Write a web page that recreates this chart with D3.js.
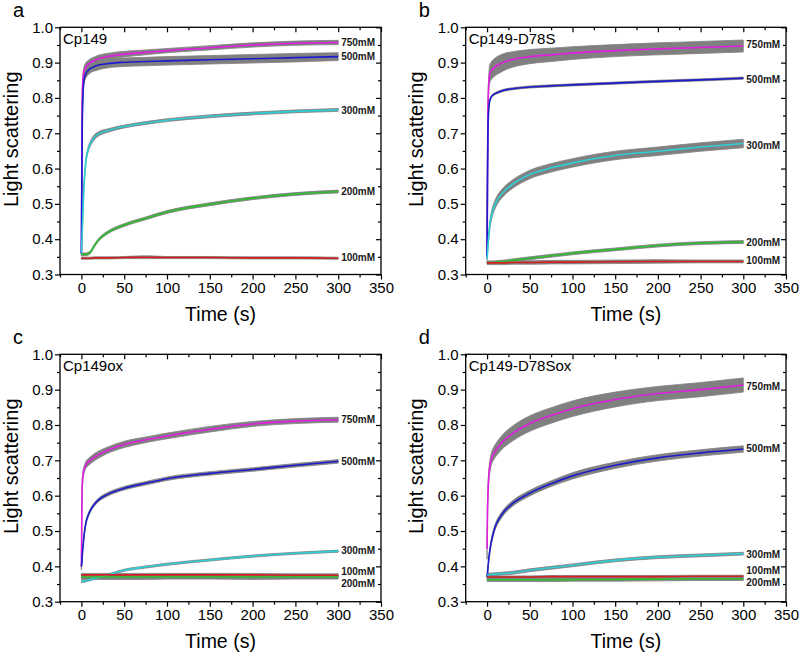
<!DOCTYPE html>
<html><head><meta charset="utf-8">
<script src="https://cdn.jsdelivr.net/npm/d3@7"></script>
<style>body{margin:0;background:#fff} text{font-family:"Liberation Sans",Arial,sans-serif}</style>
</head><body><svg id="chart" width="800" height="655"></svg>
<script>
// ---------- data ----------
const T = [0, 0.5, 1, 2, 3, 5, 8, 10, 15, 20, 30, 50, 75, 100, 150, 200, 250, 300];
const concentrations = ["750mM", "500mM", "300mM", "200mM", "100mM"];
const panelLetters = ["a", "b", "c", "d"];
const panelTitles = ["Cp149", "Cp149-D78S", "Cp149ox", "Cp149-D78Sox"];
const xTicks = [0, 50, 100, 150, 200, 250, 300, 350];
const yTicks = [0.3, 0.4, 0.5, 0.6, 0.7, 0.8, 0.9, 1.0];

// panel a: Cp149
const a750 = [0.36, 0.62, 0.80, 0.86, 0.875, 0.887, 0.895, 0.899, 0.906, 0.911, 0.917, 0.924, 0.929, 0.934, 0.942, 0.950, 0.955, 0.957];
const a500 = [0.36, 0.55, 0.72, 0.82, 0.85, 0.868, 0.878, 0.883, 0.889, 0.893, 0.897, 0.901, 0.903, 0.905, 0.908, 0.911, 0.914, 0.917];
const a300 = [0.36, 0.39, 0.42, 0.49, 0.55, 0.615, 0.655, 0.668, 0.688, 0.698, 0.707, 0.719, 0.729, 0.737, 0.748, 0.756, 0.762, 0.766];
const a200 = [0.357, 0.357, 0.357, 0.357, 0.357, 0.357, 0.359, 0.362, 0.381, 0.398, 0.418, 0.44, 0.459, 0.477, 0.499, 0.516, 0.528, 0.535];
const a100 = [0.346, 0.346, 0.346, 0.346, 0.346, 0.346, 0.346, 0.346, 0.347, 0.347, 0.347, 0.348, 0.349, 0.348, 0.348, 0.347, 0.347, 0.346];
const a750err = [0.003, 0.01, 0.012, 0.012, 0.012, 0.012, 0.011, 0.011, 0.01, 0.01, 0.009, 0.008, 0.007, 0.006, 0.006, 0.006, 0.006, 0.006];
const a500err = [0.003, 0.01, 0.012, 0.013, 0.013, 0.013, 0.013, 0.013, 0.013, 0.013, 0.012, 0.012, 0.012, 0.012, 0.012, 0.012, 0.012, 0.011];
const a300err = [0.003, 0.004, 0.005, 0.006, 0.007, 0.007, 0.007, 0.007, 0.007, 0.006, 0.005, 0.004, 0.004, 0.004, 0.004, 0.004, 0.004, 0.004];
const a200err = [0.004, 0.004, 0.004, 0.004, 0.004, 0.004, 0.004, 0.004, 0.004, 0.004, 0.004, 0.004, 0.004, 0.004, 0.004, 0.004, 0.004, 0.004];
const a100err = [0.003, 0.003, 0.003, 0.003, 0.003, 0.003, 0.003, 0.003, 0.003, 0.003, 0.003, 0.003, 0.004, 0.003, 0.003, 0.003, 0.003, 0.003];
const aLabelAt = [0.957, 0.917, 0.764, 0.536, 0.347];

// panel b: Cp149-D78S
const b750 = [0.35, 0.60, 0.76, 0.84, 0.866, 0.877, 0.885, 0.889, 0.896, 0.902, 0.909, 0.917, 0.922, 0.927, 0.934, 0.939, 0.943, 0.947];
const b500 = [0.35, 0.55, 0.70, 0.77, 0.79, 0.803, 0.810, 0.813, 0.818, 0.822, 0.826, 0.831, 0.834, 0.837, 0.842, 0.847, 0.851, 0.856];
const b300 = [0.345, 0.36, 0.38, 0.41, 0.435, 0.465, 0.49, 0.502, 0.522, 0.536, 0.556, 0.583, 0.602, 0.616, 0.637, 0.649, 0.661, 0.671];
const b200 = [0.334, 0.334, 0.334, 0.334, 0.334, 0.334, 0.334, 0.335, 0.336, 0.337, 0.34, 0.346, 0.353, 0.36, 0.371, 0.382, 0.389, 0.392];
const b100 = [0.333, 0.333, 0.333, 0.333, 0.333, 0.333, 0.333, 0.333, 0.333, 0.333, 0.334, 0.334, 0.335, 0.335, 0.336, 0.337, 0.337, 0.337];
const b750err = [0.003, 0.015, 0.02, 0.024, 0.025, 0.025, 0.025, 0.025, 0.025, 0.024, 0.022, 0.02, 0.019, 0.018, 0.017, 0.017, 0.017, 0.017];
const b500err = [0.002, 0.003, 0.003, 0.003, 0.003, 0.003, 0.003, 0.003, 0.003, 0.003, 0.003, 0.003, 0.003, 0.003, 0.003, 0.003, 0.003, 0.003];
const b300err = [0.005, 0.006, 0.008, 0.01, 0.011, 0.012, 0.012, 0.012, 0.012, 0.012, 0.012, 0.012, 0.012, 0.012, 0.012, 0.012, 0.012, 0.012];
const b200err = [0.004, 0.004, 0.004, 0.004, 0.004, 0.004, 0.004, 0.004, 0.004, 0.004, 0.004, 0.004, 0.004, 0.004, 0.004, 0.004, 0.004, 0.004];
const b100err = [0.005, 0.005, 0.005, 0.005, 0.005, 0.005, 0.005, 0.005, 0.005, 0.005, 0.005, 0.005, 0.005, 0.005, 0.005, 0.005, 0.004, 0.004];
const bLabelAt = [0.952, 0.853, 0.666, 0.39, 0.339];

// panel c: Cp149ox
const c750 = [0.40, 0.55, 0.63, 0.66, 0.672, 0.686, 0.695, 0.699, 0.709, 0.716, 0.728, 0.745, 0.758, 0.769, 0.788, 0.803, 0.811, 0.815];
const c500 = [0.40, 0.41, 0.43, 0.46, 0.485, 0.52, 0.545, 0.556, 0.575, 0.588, 0.603, 0.621, 0.635, 0.648, 0.663, 0.674, 0.686, 0.697];
const c300 = [0.357, 0.357, 0.357, 0.358, 0.358, 0.359, 0.361, 0.362, 0.366, 0.369, 0.375, 0.389, 0.398, 0.406, 0.418, 0.429, 0.437, 0.443];
const c200 = [0.370, 0.370, 0.370, 0.370, 0.370, 0.370, 0.370, 0.370, 0.370, 0.370, 0.370, 0.370, 0.370, 0.371, 0.371, 0.370, 0.370, 0.370];
const c100 = [0.376, 0.376, 0.376, 0.376, 0.376, 0.376, 0.376, 0.376, 0.376, 0.376, 0.376, 0.376, 0.376, 0.376, 0.376, 0.376, 0.375, 0.375];
const c750err = [0.01, 0.05, 0.02, 0.012, 0.01, 0.01, 0.01, 0.01, 0.01, 0.01, 0.009, 0.009, 0.008, 0.008, 0.008, 0.007, 0.007, 0.007];
const c500err = [0.005, 0.005, 0.005, 0.005, 0.005, 0.005, 0.005, 0.005, 0.005, 0.005, 0.005, 0.005, 0.005, 0.005, 0.005, 0.005, 0.005, 0.005];
const c300err = [0.003, 0.003, 0.003, 0.003, 0.003, 0.003, 0.003, 0.003, 0.003, 0.003, 0.003, 0.003, 0.003, 0.003, 0.003, 0.003, 0.003, 0.003];
const c200err = [0.007, 0.007, 0.007, 0.007, 0.007, 0.007, 0.007, 0.007, 0.007, 0.007, 0.007, 0.007, 0.007, 0.007, 0.007, 0.007, 0.006, 0.006];
const c100err = [0.004, 0.004, 0.004, 0.004, 0.004, 0.004, 0.004, 0.004, 0.004, 0.004, 0.004, 0.004, 0.004, 0.004, 0.004, 0.004, 0.004, 0.004];
const cLabelAt = [0.816, 0.698, 0.444, 0.352, 0.386];

// panel d: Cp149-D78Sox
const d750 = [0.45, 0.55, 0.60, 0.655, 0.677, 0.703, 0.72, 0.728, 0.744, 0.757, 0.776, 0.804, 0.827, 0.846, 0.872, 0.889, 0.900, 0.913];
const d500 = [0.37, 0.38, 0.395, 0.42, 0.44, 0.47, 0.50, 0.515, 0.538, 0.555, 0.578, 0.607, 0.634, 0.656, 0.686, 0.707, 0.721, 0.732];
const d300 = [0.376, 0.376, 0.376, 0.377, 0.377, 0.377, 0.378, 0.378, 0.379, 0.38, 0.382, 0.389, 0.396, 0.403, 0.417, 0.426, 0.431, 0.436];
const d200 = [0.362, 0.362, 0.362, 0.362, 0.362, 0.362, 0.362, 0.362, 0.362, 0.362, 0.362, 0.362, 0.362, 0.363, 0.363, 0.364, 0.365, 0.365];
const d100 = [0.370, 0.370, 0.370, 0.370, 0.370, 0.370, 0.370, 0.370, 0.370, 0.370, 0.370, 0.370, 0.371, 0.371, 0.371, 0.371, 0.372, 0.372];
const d750err = [0.03, 0.03, 0.02, 0.017, 0.017, 0.017, 0.018, 0.018, 0.019, 0.02, 0.021, 0.022, 0.022, 0.022, 0.021, 0.02, 0.02, 0.02];
const d500err = [0.004, 0.005, 0.006, 0.007, 0.007, 0.008, 0.008, 0.008, 0.008, 0.008, 0.008, 0.008, 0.008, 0.009, 0.009, 0.009, 0.009, 0.009];
const d300err = [0.004, 0.004, 0.004, 0.004, 0.004, 0.004, 0.004, 0.004, 0.004, 0.004, 0.004, 0.004, 0.004, 0.004, 0.004, 0.004, 0.004, 0.004];
const d200err = [0.005, 0.005, 0.005, 0.005, 0.005, 0.005, 0.005, 0.005, 0.005, 0.005, 0.005, 0.005, 0.005, 0.005, 0.005, 0.005, 0.005, 0.005];
const d100err = [0.003, 0.003, 0.003, 0.003, 0.003, 0.003, 0.003, 0.003, 0.003, 0.003, 0.003, 0.003, 0.003, 0.003, 0.003, 0.003, 0.003, 0.003];
const dLabelAt = [0.910, 0.734, 0.434, 0.353, 0.389];

// ---------- drawing ----------
const seriesColors = ["#e21ee2", "#1c1ccc", "#2ccfd6", "#2cc02c", "#d42020"];
const bandColor = "#808080";

const panels = [
  {series: [a750, a500, a300, a200, a100], errs: [a750err, a500err, a300err, a200err, a100err], labelAt: aLabelAt, box: {x0: 60, x1: 381, y0: 27.3, y1: 274.5}},
  {series: [b750, b500, b300, b200, b100], errs: [b750err, b500err, b300err, b200err, b100err], labelAt: bLabelAt, box: {x0: 465.7, x1: 786, y0: 27.3, y1: 274.5}},
  {series: [c750, c500, c300, c200, c100], errs: [c750err, c500err, c300err, c200err, c100err], labelAt: cLabelAt, box: {x0: 60, x1: 381, y0: 354.3, y1: 601.7}},
  {series: [d750, d500, d300, d200, d100], errs: [d750err, d500err, d300err, d200err, d100err], labelAt: dLabelAt, box: {x0: 465.7, x1: 786, y0: 354.3, y1: 601.7}}
];

const svg = d3.select("#chart");
const xMinor = d3.range(-25, 351, 25).filter(v => v % 50 !== 0);
const yMinor = d3.range(0.35, 1.0, 0.1).map(v => +v.toFixed(2));

panels.forEach((p, pi) => {
  const B = p.box;
  const x = d3.scaleLinear().domain([-25, 350]).range([B.x0, B.x1]);
  const y = d3.scaleLinear().domain([0.3, 1.0]).range([B.y1, B.y0]);
  const g = svg.append("g");

  // bands
  p.series.forEach((vals, si) => {
    const err = p.errs[si];
    const area = d3.area()
      .x((d, i) => x(T[i]))
      .y0((d, i) => y(vals[i] - err[i]))
      .y1((d, i) => y(vals[i] + err[i]))
      .curve(d3.curveMonotoneX);
    g.append("path").attr("d", area(vals)).attr("fill", bandColor).attr("stroke", bandColor).attr("stroke-width", 0.8);
  });
  // lines
  p.series.forEach((vals, si) => {
    const line = d3.line().x((d, i) => x(T[i])).y(d => y(d)).curve(d3.curveMonotoneX);
    g.append("path").attr("d", line(vals)).attr("fill", "none")
      .attr("stroke", seriesColors[si]).attr("stroke-width", 1.6);
  });

  // axes
  const fmtY = d3.format(".1f");
  const bottom = g.append("g").attr("transform", `translate(0,${B.y1})`)
    .call(d3.axisBottom(x).tickValues(xTicks).tickSize(5).tickPadding(3).tickFormat(d3.format("d")));
  const bottomMinor = g.append("g").attr("transform", `translate(0,${B.y1})`)
    .call(d3.axisBottom(x).tickValues(xMinor).tickSize(3).tickFormat(""));
  const left = g.append("g").attr("transform", `translate(${B.x0},0)`)
    .call(d3.axisLeft(y).tickValues(yTicks).tickSize(5).tickPadding(2).tickFormat(fmtY));
  const leftMinor = g.append("g").attr("transform", `translate(${B.x0},0)`)
    .call(d3.axisLeft(y).tickValues(yMinor).tickSize(3).tickFormat(""));
  const top = g.append("g").attr("transform", `translate(0,${B.y0})`)
    .call(d3.axisTop(x).tickValues(xTicks).tickSize(-5).tickFormat(""));
  const topMinor = g.append("g").attr("transform", `translate(0,${B.y0})`)
    .call(d3.axisTop(x).tickValues(xMinor).tickSize(-3).tickFormat(""));
  const right = g.append("g").attr("transform", `translate(${B.x1},0)`)
    .call(d3.axisRight(y).tickValues(yTicks).tickSize(-5).tickFormat(""));
  const rightMinor = g.append("g").attr("transform", `translate(${B.x1},0)`)
    .call(d3.axisRight(y).tickValues(yMinor).tickSize(-3).tickFormat(""));
  [bottom, bottomMinor, left, leftMinor, top, topMinor, right, rightMinor].forEach(a => {
    a.select(".domain").remove();
    a.selectAll("line").attr("stroke", "#000").attr("stroke-width", 1.2);
    a.selectAll("text").attr("fill", "#000").style("font-size", "15px")
      .style("font-family", '"Liberation Sans", Arial, sans-serif');
  });

  // frame
  g.append("rect").attr("x", B.x0).attr("y", B.y0).attr("width", B.x1 - B.x0).attr("height", B.y1 - B.y0)
    .attr("fill", "none").attr("stroke", "#000").attr("stroke-width", 1.3);

  // series labels
  p.series.forEach((vals, si) => {
    g.append("text").attr("x", x(T[T.length - 1]) + 3).attr("y", y(p.labelAt[si]))
      .attr("dy", "0.35em").attr("font-size", 10).attr("font-weight", "bold").attr("fill", "#1a1a1a")
      .text(concentrations[si]);
  });

  // title inside plot
  g.append("text").attr("x", B.x0 + 3).attr("y", B.y0 + 17).attr("font-size", 15).attr("fill", "#000")
    .text(panelTitles[pi]);

  // panel letter
  g.append("text").attr("x", B.x0 - 47).attr("y", B.y0 - 10).attr("font-size", 20).attr("fill", "#000")
    .text(panelLetters[pi]);

  // axis titles
  g.append("text").attr("transform", `translate(${B.x0 - 42.5},${B.y0 + 112}) rotate(-90)`)
    .attr("text-anchor", "middle").attr("font-size", 20).attr("fill", "#000").text("Light scattering");
  g.append("text").attr("x", (B.x0 + B.x1) / 2).attr("y", B.y1 + 46)
    .attr("text-anchor", "middle").attr("font-size", 19.5).attr("fill", "#000").text("Time (s)");
});
</script></body></html>
